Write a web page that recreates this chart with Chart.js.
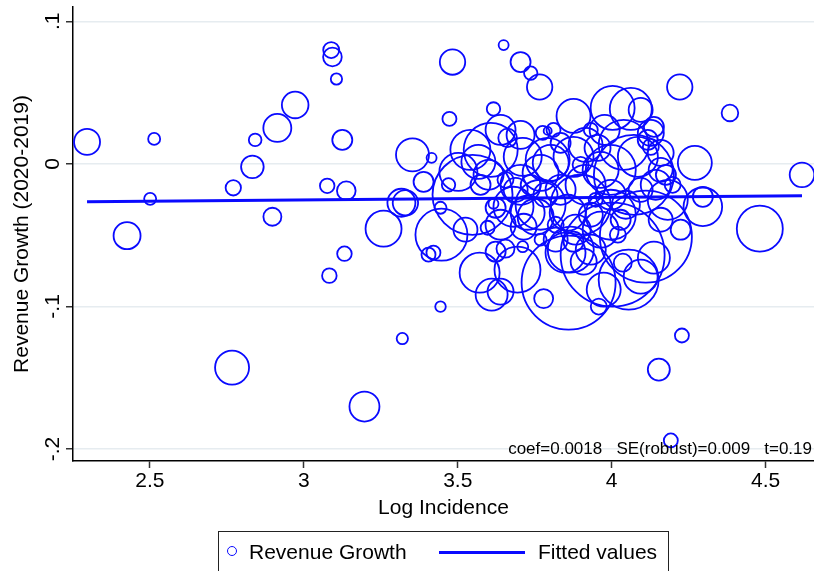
<!DOCTYPE html>
<html>
<head>
<meta charset="utf-8">
<script src="https://cdn.jsdelivr.net/npm/chart.js@4.4.1/dist/chart.umd.min.js"></script>
<style>
  html, body { margin:0; padding:0; background:#fff; overflow:hidden; }
  #wrap { position:relative; width:814px; height:571px; }
  #legend { position:absolute; left:218px; top:531px; width:451px; height:60px; border:1px solid #222; box-sizing:border-box;
            font-family:"Liberation Sans", Arial, sans-serif; font-size:21px; color:#000; }
  #legend .item { position:absolute; top:8px; white-space:nowrap; }
  #legend .mk { position:absolute; top:14px; left:8px; width:10px; height:10px; border:1.8px solid #0a0aff; border-radius:50%; box-sizing:border-box; }
  #legend .ln { position:absolute; top:19px; left:220px; width:86px; height:3px; background:#0a0aff; }
</style>
</head>
<body>
<div id="wrap">
  <canvas id="c" width="814" height="571"></canvas>
  <div id="legend">
    <div class="mk"></div><div class="item" style="left:30px">Revenue Growth</div>
    <div class="ln"></div><div class="item" style="left:319px">Fitted values</div>
  </div>
</div>
<script>
// ---- data ----
const logIncidence = [
  2.296, 2.514, 2.501, 2.426, 2.771, 2.833, 2.842, 2.914, 2.972, 2.898,
  3.089, 3.093, 3.106, 3.125, 3.076, 3.138, 3.132, 3.083, 2.767, 3.197,
  3.320, 3.444, 3.405, 3.421, 3.571, 3.610, 3.639, 3.623, 3.655, 3.711,
  3.694, 3.779, 3.447, 3.259, 3.353, 3.415, 3.389, 3.317, 3.330, 3.444,
  3.470, 3.473, 3.616, 3.483, 3.649, 3.704, 3.737, 3.766, 4.003, 4.062,
  4.221, 4.384, 4.270, 4.296, 4.296, 4.481, 4.618, 4.137, 4.153, 4.228,
  4.192, 3.958, 3.607, 3.548, 3.502, 3.567, 3.600, 3.662, 3.711, 3.776,
  3.792, 3.769, 3.802, 3.834, 3.811, 3.876, 3.876, 3.954, 3.932, 4.039,
  4.117, 4.127, 4.127, 4.085, 4.072, 4.137, 4.094, 4.159, 4.182, 4.111,
  4.003, 3.860, 4.055, 3.909, 4.036, 4.094, 3.974, 3.867, 3.876, 4.020,
  3.850, 3.857, 3.753, 3.714, 3.681, 3.623, 3.616, 3.597, 3.727, 3.834,
  3.915, 3.964, 3.997, 3.932, 3.785, 3.883, 3.964, 4.046, 4.094, 4.143,
  4.176, 3.737, 3.688, 3.655, 3.899, 3.948, 4.029, 3.818, 3.769,
  3.541, 3.639, 3.704, 3.792, 3.915, 3.977, 4.159, 3.997, 3.769, 3.899,
  3.997, 3.639, 3.525, 3.704, 3.574, 3.818, 3.932, 4.159, 4.224, 4.198
];
const revenueGrowth = [
  0.0154, 0.0175, -0.0245, -0.0504, -0.0168, -0.0021, 0.0168, 0.0252, 0.0413, -0.0371,
  0.0798, 0.0749, 0.0595, 0.0168, -0.0154, -0.0189, -0.0630, -0.0784, -0.1429, -0.1702,
  -0.1225, -0.1001, -0.0637, -0.0623, -0.0763, -0.0917, -0.0896, -0.0616, -0.0595, -0.0581,
  -0.0742, -0.0945, -0.0497, -0.0455, 0.0063, 0.0042, -0.0126, -0.0273, -0.0273, -0.0308,
  -0.0147, 0.0315, 0.0385, 0.0714, 0.0833, 0.0714, 0.0637, 0.0539, 0.0392, 0.0385,
  0.0539, 0.0357, 0.0007, -0.0231, -0.0301, -0.0455, -0.0077, -0.0658, -0.1443, -0.1204,
  -0.1940, -0.1001, 0.0098, -0.0217, -0.0056, 0.0014, -0.0077, 0.0182, 0.0049, 0.0217,
  0.0231, -0.0063, 0.0007, 0.0147, 0.0238, 0.0336, 0.0049, 0.0112, 0.0238, 0.0133,
  0.0168, 0.0119, 0.0217, 0.0049, -0.0077, 0.0259, 0.0378, 0.0077, -0.0252, -0.0511,
  -0.0637, -0.0833, -0.0812, -0.0686, -0.0693, -0.0791, -0.0882, -0.0602, -0.0546, -0.0497,
  -0.0623, -0.0343, -0.0371, -0.0441, -0.0301, -0.0308, -0.0280, -0.0448, -0.0343, -0.0182,
  -0.0147, -0.0042, -0.0217, -0.0357, -0.0217, -0.0462, -0.0462, -0.0287, -0.0182, -0.0147,
  -0.0077, -0.0147, -0.0182, -0.0112, -0.0007, -0.0252, -0.0392, -0.0427, -0.0532,
  0.0098, 0.0238, 0.0203, 0.0028, 0.0133, 0.0238, -0.0042, -0.0042, -0.0287, -0.0287,
  -0.0357, -0.0427, -0.0462, -0.0147, -0.0147, -0.0532, -0.0602, -0.0392, -0.0462, -0.0147
];
const weights = [
  169, 36, 36, 182, 59, 128, 40, 196, 177, 81,
  64, 87, 32, 100, 53, 87, 53, 53, 289, 225,
  32, 28, 49, 49, 400, 256, 169, 100, 81, 30,
  529, 90, 676, 324, 272, 25, 100, 196, 161, 36,
  45, 49, 45, 161, 25, 100, 45, 161, 484, 441,
  161, 69, 289, 100, 372, 529, 151, 256, 121, 49,
  49, 64, 729, 1600, 361, 289, 225, 87, 361, 49,
  16, 324, 324, 100, 49, 289, 400, 169, 49, 625,
  100, 64, 169, 400, 1600, 100, 144, 169, 400, 2116,
  2704, 2209, 900, 169, 81, 289, 289, 529, 100, 64,
  400, 324, 324, 169, 400, 100, 25, 49, 289, 225,
  400, 324, 225, 144, 144, 225, 324, 196, 144, 225,
  100, 100, 144, 64, 64, 49, 100, 64, 36,
  400, 225, 196, 484, 289, 225, 144, 625, 625, 900,
  625, 225, 144, 400, 100, 144, 225, 144, 100, 64
];
const fitCoef = 0.0018;
const fitIntercept = -0.0307;
const xTicks = [2.5, 3, 3.5, 4, 4.5];
const yTicks = [-0.2, -0.1, 0, 0.1];
const yTickLabels = ['-.2', '-.1', '0', '.1'];
const statsText = 'coef=0.0018   SE(robust)=0.009   t=0.19';

// ---- build datasets ----
const BLUE = '#0a0aff';
const FONT = '"Liberation Sans", Arial, sans-serif';
const bubbles = logIncidence.map((x, i) => ({ x: x, y: revenueGrowth[i], r: Math.sqrt(weights[i]) }));
const xMinData = Math.min(...logIncidence), xMaxData = Math.max(...logIncidence);
const fitted = [xMinData, xMaxData].map(x => ({ x: x, y: fitIntercept + fitCoef * x }));

// keep the plot area fixed: circles may overflow the frame as in the reference
Chart.BubbleController.prototype.getMaxOverflow = function () { return 0; };

const overlay = {
  id: 'overlay',
  afterDraw(chart) {
    const ctx = chart.ctx, ys = chart.scales.y, area = chart.chartArea;
    ctx.save();
    ctx.fillStyle = '#000';
    ctx.font = '21px ' + FONT;
    ctx.textAlign = 'center';
    ctx.textBaseline = 'middle';
    yTicks.forEach((v, i) => {
      const py = ys.getPixelForValue(v);
      ctx.save();
      ctx.translate(area.left - 20, py);
      ctx.rotate(-Math.PI / 2);
      ctx.fillText(yTickLabels[i], 0, 0);
      ctx.restore();
    });
    ctx.font = '17px ' + FONT;
    ctx.textAlign = 'right';
    ctx.fillText(statsText, area.right - 2, ys.getPixelForValue(-0.2));
    ctx.restore();
  }
};

new Chart(document.getElementById('c'), {
  data: {
    datasets: [
      { type: 'line', label: 'Fitted values', data: fitted, borderColor: BLUE, borderWidth: 3,
        pointRadius: 0, fill: false, tension: 0, clip: false },
      { type: 'bubble', label: 'Revenue Growth', data: bubbles, backgroundColor: 'rgba(0,0,0,0)',
        borderColor: BLUE, borderWidth: 1.8, hoverRadius: 0, clip: false }
    ]
  },
  options: {
    responsive: false,
    animation: false,
    events: [],
    layout: { padding: { top: 7, right: 0, bottom: 50, left: 0 } },
    plugins: { legend: { display: false }, tooltip: { enabled: false } },
    scales: {
      x: {
        type: 'linear', min: 2.2504, max: 4.657,
        afterBuildTicks: s => { s.ticks = xTicks.map(v => ({ value: v })); },
        afterFit: s => { s.height = 60; },
        grid: { drawOnChartArea: false, drawTicks: true, tickLength: 7, tickColor: '#333', tickWidth: 1.5 },
        border: { display: true, color: '#000', width: 1.5 },
        ticks: { color: '#000', font: { family: FONT, size: 21 }, padding: 1, maxRotation: 0,
                 callback: v => String(v) },
        title: { display: true, text: 'Log Incidence', color: '#000', font: { family: FONT, size: 21 }, padding: { top: 0, bottom: 0 } }
      },
      y: {
        type: 'linear', min: -0.2084, max: 0.11,
        afterBuildTicks: s => { s.ticks = yTicks.map(v => ({ value: v })); },
        afterFit: s => { s.width = 73; },
        grid: { color: '#e6ecf0', lineWidth: 1.5, drawTicks: true, tickLength: 7, tickColor: '#333', tickWidth: 1.5 },
        border: { display: true, color: '#000', width: 1.5 },
        ticks: { display: false },
        title: { display: true, text: 'Revenue Growth (2020-2019)', color: '#000', font: { family: FONT, size: 21 }, padding: { top: 10, bottom: 0 } }
      }
    }
  },
  plugins: [overlay]
});
</script>
</body>
</html>
